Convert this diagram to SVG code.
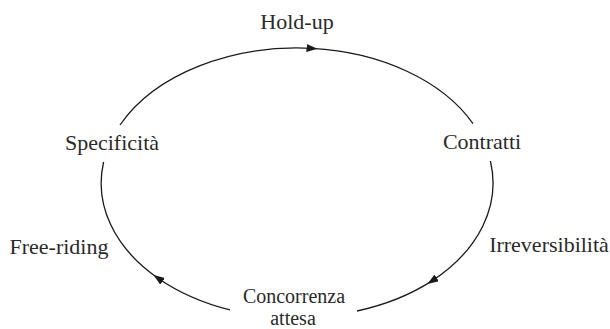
<svg xmlns="http://www.w3.org/2000/svg" width="610" height="329" viewBox="0 0 610 329">
<style>
.lbl{font-family:"Liberation Serif","Times New Roman",serif;font-size:22px;fill:#2a2a2a;text-anchor:middle}
.sm{font-size:20px}
.arc{fill:none;stroke:#1a1a1a;stroke-width:1.3;marker-mid:url(#ah)}
</style>
<defs>
<marker id="ah" viewBox="0 0 11 8" refX="5.5" refY="4" markerWidth="11" markerHeight="8" markerUnits="userSpaceOnUse" orient="auto">
<path d="M0,0 L11,4 L0,8 z" fill="#1a1a1a"/>
</marker>
</defs>
<rect width="610" height="329" fill="#ffffff"/>
<g id="connectors">
<path class="arc" d="M120,125 A196,135 0 0 1 312,48.4 A196,135 0 0 1 473,123.6"/>
<path class="arc" d="M490.4,161 A196,135 0 0 1 432,280.9 A196,135 0 0 1 357,311"/>
<path class="arc" d="M230,309.9 A196,135 0 0 1 158,278.2 A196,135 0 0 1 103.6,162"/>
</g>
<g id="node-holdup"><text class="lbl" x="297" y="29">Hold-up</text></g>
<g id="node-specificita"><text class="lbl" x="112" y="150">Specificità</text></g>
<g id="node-contratti"><text class="lbl" x="482" y="149">Contratti</text></g>
<g id="node-freeriding"><text class="lbl" x="59" y="254">Free-riding</text></g>
<g id="node-irreversibilita"><text class="lbl" x="549" y="252">Irreversibilità</text></g>
<g id="node-concorrenza"><text class="lbl sm" x="294" y="303">Concorrenza</text><text class="lbl sm" x="293" y="325">attesa</text></g>
</svg>
